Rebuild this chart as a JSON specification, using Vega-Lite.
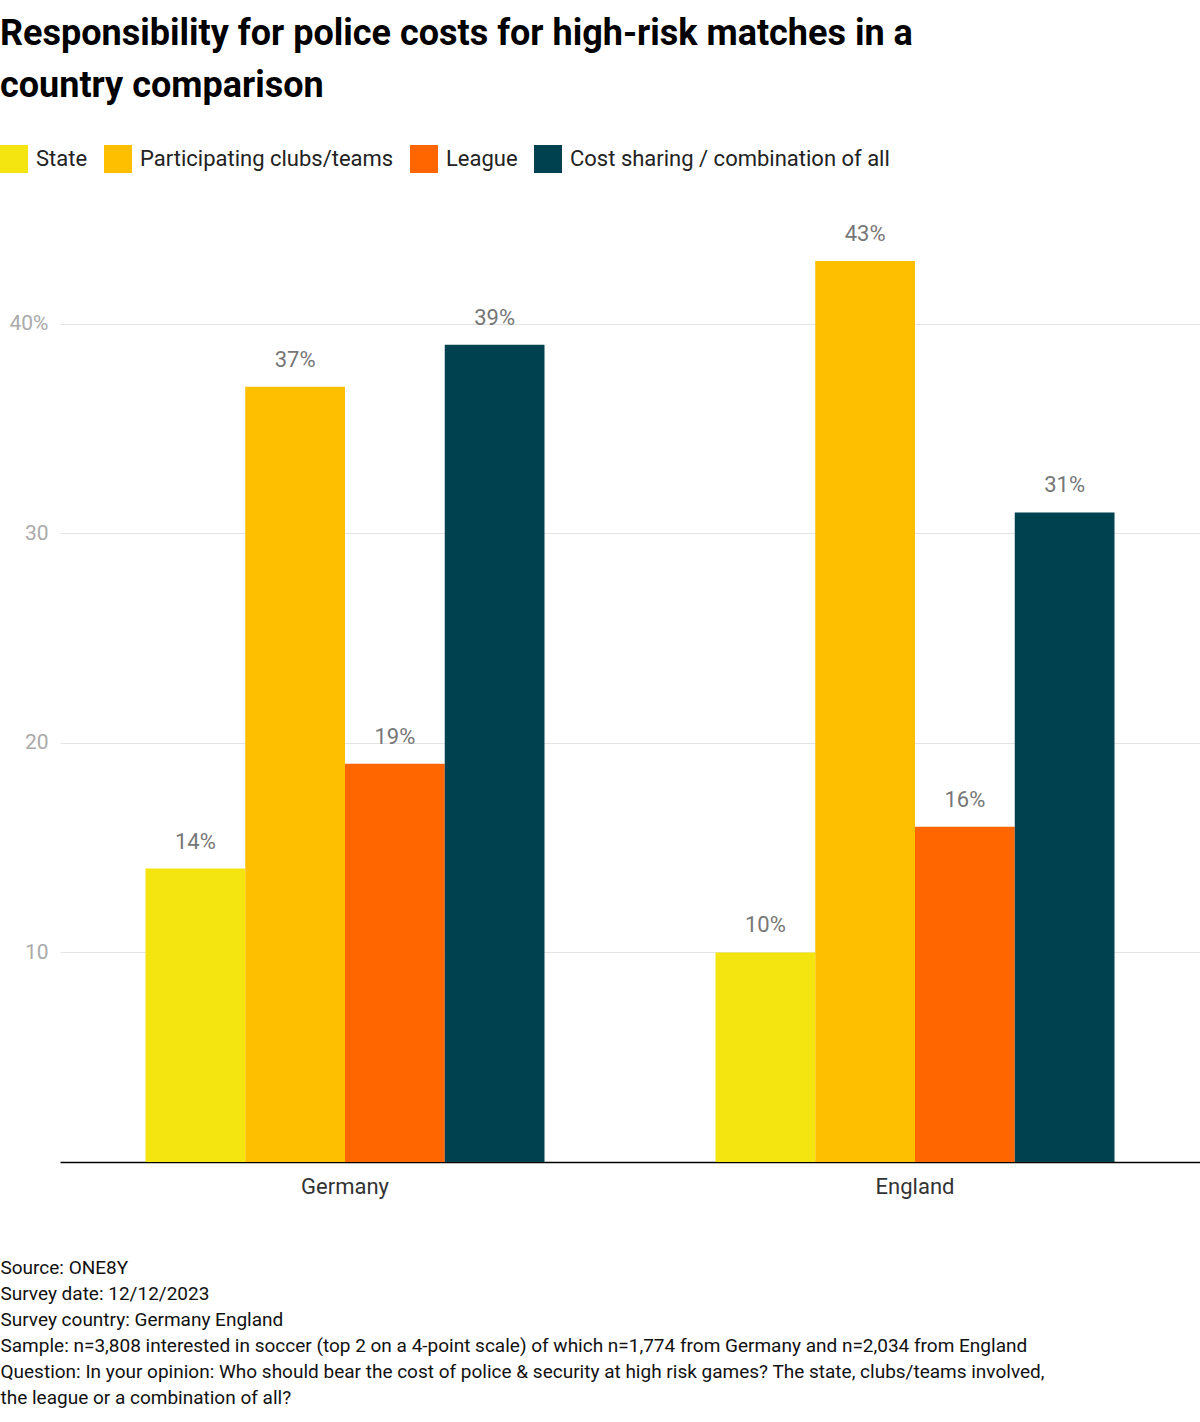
{
  "$schema": "https://vega.github.io/schema/vega-lite/v6.json",
  "autosize": "none",
  "width": 1140,
  "height": 943,
  "padding": {"left": 60, "top": 219, "right": 0, "bottom": 260},
  "background": "white",
  "config": {"font": "Roboto", "view": {"stroke": null}},
  "title": {
    "text": ["Responsibility for police costs for high-risk matches in a", "country comparison"],
    "anchor": "start",
    "frame": "group",
    "dx": -60,
    "offset": 40,
    "fontSize": 36,
    "fontWeight": "bold",
    "lineHeight": 52,
    "color": "#000"
  },
  "data": {
    "values": [
      {"country": "Germany", "type": "State", "value": 14},
      {"country": "Germany", "type": "Participating clubs/teams", "value": 37},
      {"country": "Germany", "type": "League", "value": 19},
      {"country": "Germany", "type": "Cost sharing / combination of all", "value": 39},
      {"country": "England", "type": "State", "value": 10},
      {"country": "England", "type": "Participating clubs/teams", "value": 43},
      {"country": "England", "type": "League", "value": 16},
      {"country": "England", "type": "Cost sharing / combination of all", "value": 31}
    ]
  },
  "transform": [{"calculate": "datum.value + '%'", "as": "label"}],
  "encoding": {
    "x": {
      "field": "country", "type": "nominal", "sort": ["Germany", "England"],
      "scale": {"paddingInner": 0.3, "paddingOuter": 0.15},
      "axis": {
        "labelAngle": 0, "labelFontSize": 22, "labelColor": "#333", "labelPadding": 14,
        "ticks": false, "domainColor": "#000", "domainWidth": 1.5,
        "title": ["Source: ONE8Y", "\u00a0", "Survey date: 12/12/2023", "Survey country: Germany England",
          "Sample: n=3,808 interested in soccer (top 2 on a 4-point scale) of which n=1,774 from Germany and n=2,034 from England",
          "Question: In your opinion: Who should bear the cost of police & security at high risk games? The state, clubs/teams involved,",
          "the league or a combination of all?"],
        "titleFontSize": 19, "titleFontWeight": "normal", "titleColor": "#111", "titleLineHeight": 26,
        "titleAnchor": "start", "titleAlign": "left", "titleBaseline": "top", "titleX": -60, "titleY": 96
      }
    },
    "xOffset": {
      "field": "type", "type": "nominal",
      "sort": ["State", "Participating clubs/teams", "League", "Cost sharing / combination of all"],
      "scale": {"paddingInner": 0, "paddingOuter": 0}
    },
    "y": {
      "field": "value", "type": "quantitative",
      "scale": {"domain": [0, 45], "nice": false},
      "axis": {
        "values": [10, 20, 30, 40], "title": null, "domain": false, "ticks": false,
        "labelExpr": "datum.value == 40 ? '40%' : datum.label",
        "labelFontSize": 21, "labelColor": "#aaa", "labelPadding": 12,
        "gridColor": "#e3e3e3"
      }
    }
  },
  "layer": [
    {
      "mark": {"type": "bar"},
      "encoding": {
        "color": {
          "field": "type", "type": "nominal",
          "scale": {
            "domain": ["State", "Participating clubs/teams", "League", "Cost sharing / combination of all"],
            "range": ["#f4e511", "#fdbf00", "#ff6600", "#00414f"]
          },
          "legend": {
            "title": null, "orient": "none", "direction": "horizontal",
            "legendX": -60, "legendY": -74,
            "symbolType": "square", "symbolSize": 784, "symbolStrokeWidth": 0,
            "labelFontSize": 22, "labelColor": "#222", "labelLimit": 0, "columnPadding": 16, "labelOffset": 8
          }
        }
      }
    },
    {
      "mark": {"type": "text", "dy": -15, "baseline": "bottom", "fontSize": 22, "color": "#777"},
      "encoding": {"text": {"field": "label", "type": "nominal"}}
    }
  ]
}
